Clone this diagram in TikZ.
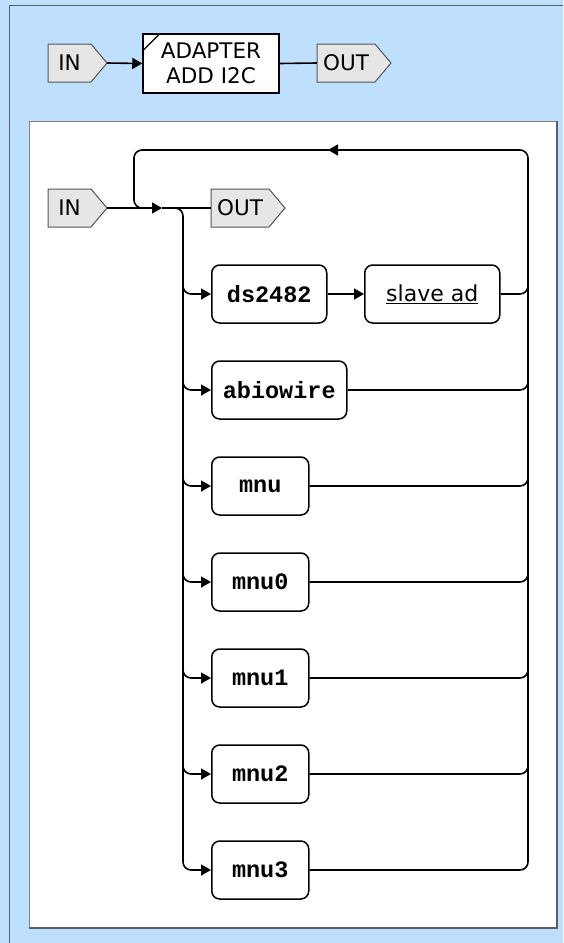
\documentclass[tikz,border=0pt]{standalone}
\usepackage{fontspec}
\setmainfont{DejaVu Sans}
\newfontfamily\codefont{Liberation Mono}
\usetikzlibrary{arrows.meta}

\definecolor{panelblue}{RGB}{191,223,255}
\definecolor{tagfill}{RGB}{230,230,230}
\definecolor{tagline}{RGB}{85,85,85}
\definecolor{frameline}{RGB}{90,96,104}

\tikzset{
  wire/.style={line width=1.6pt, black},
  flow/.style={wire, -{Triangle[length=10pt,width=11pt]}},
  bendwire/.style={wire, rounded corners=8pt},
  opbox/.style={draw, line width=1.5pt, rounded corners=8pt, fill=white,
    minimum height=58pt, inner sep=0pt, anchor=west,
    font=\codefont\bfseries\fontsize{23.5}{26}\selectfont},
  labelbox/.style={opbox, font=\fontsize{22}{26}\selectfont},
  tagbody/.style={minimum height=38pt, inner sep=0pt,
    font=\fontsize{21.5}{25}\selectfont},
  tagedge/.style={fill=tagfill, draw=tagline, line width=1pt},
}

% flag-shaped terminal: name, left x, middle y, body width, label
\newcommand\flagtag[5]{%
  \filldraw[tagedge] (#2,#3-19) -- (#2+#4,#3-19) -- (#2+#4+16,#3)
    -- (#2+#4,#3+19) -- (#2,#3+19) -- cycle;
  \node[tagbody, minimum width=#4pt] (#1) at (#2+#4/2,#3) {#5};
  \coordinate (#1-tip) at (#2+#4+16,#3);}

\begin{document}
\begin{tikzpicture}[x=1pt,y=-1pt]
\useasboundingbox (0,0) rectangle (563,943);

% outer and inner panels
\fill[panelblue] (0,0) rectangle (563,943);
\draw[frameline, line width=1pt] (9,943) -- (9,5) -- (563,5);
\fill[white] (29,121) rectangle (557,928);
\draw[gray, line width=1pt] (29,928) -- (29,121) -- (557,121);
\draw[frameline, line width=1.5pt] (557,121) -- (557,928) -- (29,928);

% top row
\flagtag{in1}{48}{63}{43}{IN}
\node[draw, line width=1.5pt, fill=white, minimum width=136pt, minimum height=59pt,
  inner sep=0pt, align=center, font=\fontsize{21.5}{25}\selectfont]
  (ad) at (211,63.5) {ADAPTER\\ADD I2C};
\draw[line width=1.2pt] ([yshift=-18pt]ad.north west) -- ([xshift=18pt]ad.north west);
\flagtag{out1}{317}{63}{58}{OUT}
\draw[flow] (in1-tip) -- (ad.west);
\draw[wire] (ad.east) -- (out1.west);

% inner row
\flagtag{in2}{48}{208}{43}{IN}
\flagtag{out2}{211}{208}{58}{OUT}
\coordinate (j1) at (162,208);
\coordinate (lv) at (183,208);
\coordinate (rv) at (528,150);
\coordinate (lt) at (134,150);

% branch boxes
\node[opbox, minimum width=115pt] (ds) at (211,294) {ds2482};
\node[labelbox, minimum width=135pt] (sa) at (364,294) {\underline{slave ad}};
\node[opbox, minimum width=135pt] (ab) at (211,390) {abiowire};
\node[opbox, minimum width=97pt] (m) at (211,486) {mnu};
\node[opbox, minimum width=97pt] (m0) at (211,582) {mnu0};
\node[opbox, minimum width=97pt] (m1) at (211,678) {mnu1};
\node[opbox, minimum width=97pt] (m2) at (211,774) {mnu2};
\node[opbox, minimum width=97pt] (m3) at (211,870) {mnu3};

% main line and loop
\draw[flow] (in2-tip) -- (j1);
\draw[wire] (j1) -- (out2.west);
\draw[bendwire] (m3.east) -- (rv |- m3.east) -- (rv) -- (lt) -- (lt |- j1) -- (150,208);
\draw[flow] (346,150) -- (328,150);

% branches on the left
\draw[bendwire, flow] (j1) -- (lv) -- (lv |- m3.west) -- (m3.west);
\foreach \n in {ds,ab,m,m0,m1,m2}{
  \draw[bendwire, flow] ([yshift=24pt]lv |- \n.west) -- (lv |- \n.west) -- (\n.west);
}
\draw[flow] (ds.east) -- (sa.west);

% returns on the right
\foreach \n in {sa,ab,m,m0,m1,m2}{
  \draw[bendwire] (\n.east) -- (rv |- \n.east) -- ([yshift=24pt]rv |- \n.east);
}
\end{tikzpicture}
\end{document}
